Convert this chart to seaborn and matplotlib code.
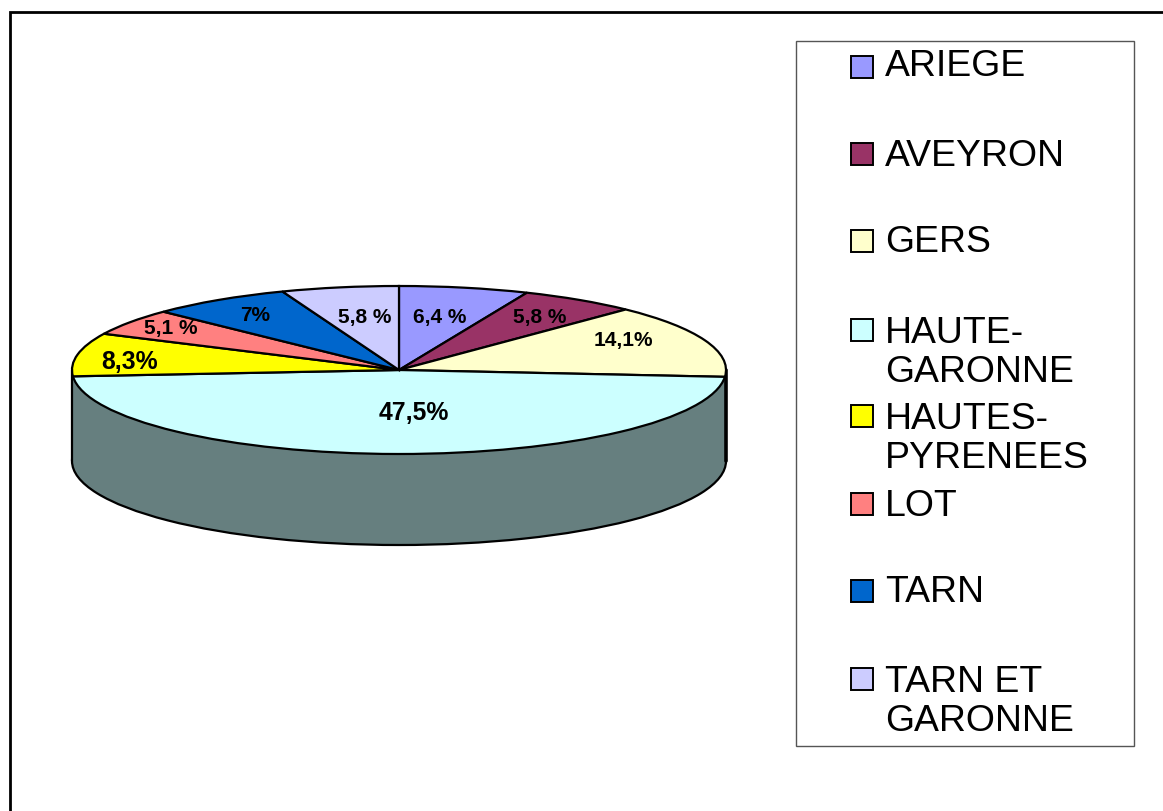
import matplotlib
matplotlib.use("Agg")
import matplotlib.pyplot as plt
from matplotlib.patches import Rectangle
import seaborn as sns

categories = ["ARIEGE", "AVEYRON", "GERS", "HAUTE-\nGARONNE", "HAUTES-\nPYRENEES", "LOT", "TARN", "TARN ET\nGARONNE"]
values = [6.4, 5.8, 14.1, 47.5, 8.3, 5.1, 7.0, 5.8]
value_labels = ["6,4 %", "5,8 %", "14,1%", "47,5%", "8,3%", "5,1 %", "7%", "5,8 %"]
colors = ["#9999FF", "#993366", "#FFFFCC", "#CCFFFF", "#FFFF00", "#FF8080", "#0066CC", "#CCCCFF"]
side_color = "#667F7F"

# layout (pixels of the 1163x812 picture)
W, H = 1163, 812
label_pos = [(440, 318), (540, 318), (623, 341), (414, 413), (130, 362), (171, 329), (255, 316), (365, 318)]
label_size = [15, 15, 15, 17.8, 17.8, 15, 15, 15]
legend_swatch_y = [68, 155, 242, 331, 417, 505, 592, 680]
legend_text_y = [67, 157, 243, 353, 439, 507, 593, 702]

sns.set_theme(style="white")
plt.rcParams["font.family"] = ["Liberation Sans", "DejaVu Sans"]

fig = plt.figure(figsize=(W / 100, H / 100), dpi=100, facecolor="white")

# pie axes: the ellipse spans x 72..726, y 287..455, wall depth 91 px
px0, px1, py_top, py_mid, depth_px = 72, 726, 287, 455, 91
ry = (py_mid - py_top) / 2
depth = depth_px / ry
ax = fig.add_axes([px0 / W, 1 - (py_mid + depth_px) / H, (px1 - px0) / W, (py_mid + depth_px - py_top) / H])

ax.pie([sum(values)], colors=[side_color], center=(0, -depth), startangle=90,
       wedgeprops=dict(edgecolor="black", linewidth=1.6, clip_on=False))
ax.fill_between([-1, 1], [-depth, -depth], [0, 0], color=side_color, linewidth=0, zorder=2)
ax.plot([-1, -1], [-depth, 0], color="black", lw=1.6, zorder=3, clip_on=False)
ax.plot([1, 1], [-depth, 0], color="black", lw=2.6, zorder=3, clip_on=False)
wedges, _ = ax.pie(values, colors=colors, startangle=90, counterclock=False,
                   wedgeprops=dict(edgecolor="black", linewidth=1.6, clip_on=False, zorder=4))
ax.set_aspect("auto")
ax.set_xlim(-1, 1)
ax.set_ylim(-1 - depth, 1)
ax.axis("off")

# overlay in picture pixels
ov = fig.add_axes([0, 0, 1, 1], facecolor="none")
ov.set_xlim(0, W)
ov.set_ylim(H, 0)
ov.axis("off")

ov.plot([9.5, 9.5, W], [H, 13, 13], color="black", lw=2, solid_joinstyle="miter")

for (x, y), lab, fs in zip(label_pos, value_labels, label_size):
    ov.text(x, y, lab, ha="center", va="center", fontsize=fs, fontweight="bold", color="black")

ov.add_patch(Rectangle((796, 42), 338, 705, facecolor="white", edgecolor="#555555", lw=1))
for cat, col, sy, ty in zip(categories, colors, legend_swatch_y, legend_text_y):
    ov.add_patch(Rectangle((851, sy - 11), 22, 22, facecolor=col, edgecolor="black", lw=1.4))
    ov.text(885, ty, cat, ha="left", va="center", fontsize=26.9, color="black", linespacing=1.15)

fig.savefig("out.png", dpi=100)
